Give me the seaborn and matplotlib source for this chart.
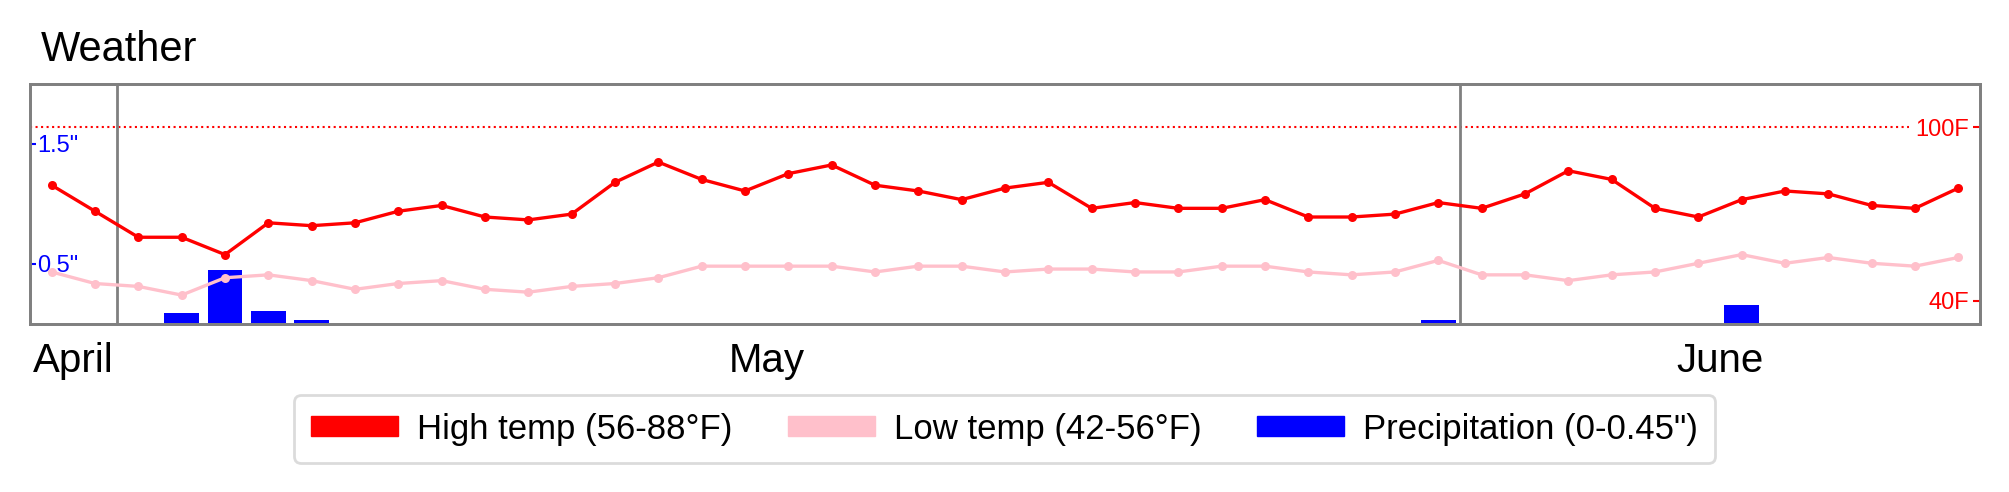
import numpy as np
import pandas as pd
import matplotlib
matplotlib.use('Agg')
import matplotlib.pyplot as plt
import matplotlib.transforms as mtransforms
from matplotlib.patches import Patch
import seaborn as sns

# daily data, Apr 29 - Jun 12
dates = pd.date_range('2024-04-29', periods=45, freq='D')

high_temp = [80, 71, 62, 62, 56, 67, 66, 67, 71, 73, 69, 68, 70, 81, 88,
             82, 78, 84, 87, 80, 78, 75, 79, 81, 72, 74, 72, 72, 75, 69,
             69, 70, 74, 72, 77, 85, 82, 72, 69, 75, 78, 77, 73, 72, 79]

low_temp = [50, 46, 45, 42, 48, 49, 47, 44, 46, 47, 44, 43, 45, 46, 48,
            52, 52, 52, 52, 50, 52, 52, 50, 51, 51, 50, 50, 52, 52, 50,
            49, 50, 54, 49, 49, 47, 49, 50, 53, 56, 53, 55, 53, 52, 55]

precip = [0, 0, 0, 0.09, 0.45, 0.11, 0.03, 0, 0, 0,
          0, 0, 0, 0, 0, 0, 0, 0, 0, 0,
          0, 0, 0, 0, 0, 0, 0, 0, 0, 0,
          0, 0, 0.03, 0, 0, 0, 0, 0, 0, 0.16,
          0, 0, 0, 0, 0]

precip_ticks = [0.5, 1.5]
precip_tick_labels = ['0.5"', '1.5"']
temp_ticks = [40, 100]
temp_tick_labels = ['40F', '100F']

legend_labels = ['High temp (56-88°F)', 'Low temp (42-56°F)', 'Precipitation (0-0.45")']

sns.set_style('white')
plt.rcParams['font.family'] = ['Liberation Sans', 'DejaVu Sans']
plt.rcParams['text.color'] = 'black'

W, H = 2009, 492
fig = plt.figure(figsize=(W / 100, H / 100), dpi=100)
ax = fig.add_axes([30 / W, 1 - 324 / H, 1950 / W, 240 / H])

days = np.arange(len(dates))

# precipitation bars (left axis)
sns.barplot(x=days, y=precip, ax=ax, color='blue', saturation=1, width=0.8, linewidth=0)
ax.set_ylim(0, 2)
ax.set_yticks(precip_ticks)
ax.set_yticklabels(precip_tick_labels)
ax.set_xticks([])
ax.set_xlabel('')
ax.set_ylabel('')
ax.tick_params(axis='y', left=True, direction='in', length=4, width=1.5,
               colors='blue', pad=-5, labelsize=17)
for lbl in ax.get_yticklabels():
    lbl.set_horizontalalignment('left')

# temperatures (right axis)
ax_t = ax.twinx()
sns.lineplot(x=days, y=high_temp, ax=ax_t, color='red', marker='o', markersize=6.5,
             markeredgewidth=0, linewidth=2.4)
sns.lineplot(x=days, y=low_temp, ax=ax_t, color='pink', marker='o', markersize=6.5,
             markeredgewidth=0, linewidth=2.4)
ax_t.set_ylim(32, 115)
ax_t.set_xlim(-0.5, len(days) - 0.5)
ax_t.set_yticks(temp_ticks)
ax_t.set_yticklabels(temp_tick_labels)
ax_t.set_ylabel('')
ax_t.tick_params(axis='y', right=True, direction='in', length=5, width=1.5,
                 colors='red', pad=-7.7, labelsize=17)
for lbl in ax_t.get_yticklabels():
    lbl.set_horizontalalignment('right')

ax_t.axhline(100, xmin=0, xmax=0.9636, color='red', linestyle=':', linewidth=1.5, zorder=1)

# month boundaries and labels
month_starts = [i - 0.5 for i, d in enumerate(dates) if d.day == 1]
for b in month_starts:
    ax_t.axvline(b, color='grey', linewidth=2, zorder=1)

month_names = [dates[0].strftime('%B')] + [dates[int(b + 0.5)].strftime('%B') for b in month_starts]
month_label_x = [0.5, 16.5, 38.5]
trans = mtransforms.blended_transform_factory(ax.transData, ax.transAxes)
for name, xc in zip(month_names, month_label_x):
    ax.text(xc, -0.199, name, transform=trans, ha='center', va='baseline',
            fontsize=29, color='black')

for a in (ax, ax_t):
    for s in a.spines.values():
        s.set_color('grey')
        s.set_linewidth(2)

fig.text(41 / W, 1 - 60.7 / H, 'Weather', fontsize=30, va='baseline', ha='left', color='black')

handles = [Patch(color='red'), Patch(color='pink'), Patch(color='blue')]
leg = fig.legend(handles, legend_labels, loc='center', bbox_to_anchor=(0.5, 1 - 429 / H),
                 ncol=3, fontsize=25, frameon=True, fancybox=True, edgecolor='#d3d3d3',
                 handlelength=2.5, handleheight=0.5, handletextpad=0.55, columnspacing=1.6,
                 borderpad=0.5, labelcolor='black')
leg.get_frame().set_linewidth(2)

fig.savefig('out.png', dpi=100)
